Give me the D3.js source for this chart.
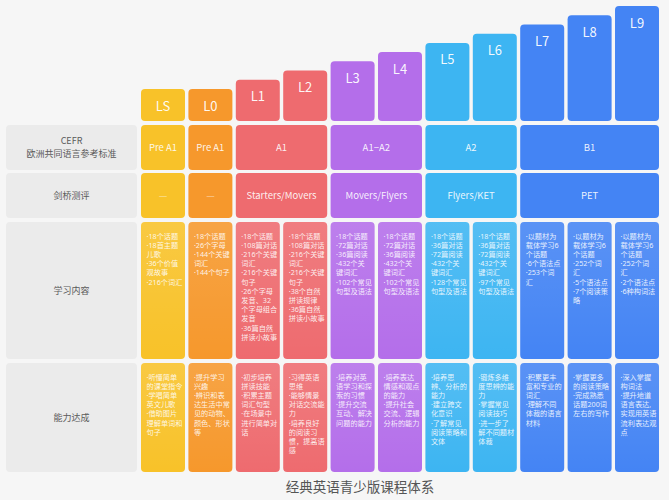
<!DOCTYPE html>
<html><head><meta charset="utf-8">
<script src="https://cdn.jsdelivr.net/npm/d3@7"></script>
<style>
html,body{margin:0;padding:0;background:#f6f6f6;}
svg{display:block;font-family:"Noto Sans CJK SC","Noto Sans",sans-serif;}
.small{font-family:"Noto Sans","Noto Sans CJK SC",sans-serif;}
</style></head>
<body>
<svg id="chart" width="669" height="500"></svg>
<script>
// ---------- data ----------
const levels = ["LS","L0","L1","L2","L3","L4","L5","L6","L7","L8","L9"];
const levelValues = [1,1,2,3,4,5,6,7,8,9,10];
const levelColors = ["#F8C229","#F6982C","#EE6B6F","#EE6B6F","#B46EEA","#B46EEA","#3DB5F2","#3DB5F2","#4484F4","#4484F4","#4484F4"];
const rowHeaders = [["CEFR","欧洲共同语言参考标准"],["剑桥测评"],["学习内容"],["能力达成"]];
const cefrGroups = [
  {label:"Pre A1", from:"LS", to:"LS"},
  {label:"Pre A1", from:"L0", to:"L0"},
  {label:"A1", from:"L1", to:"L2"},
  {label:"A1−A2", from:"L3", to:"L4"},
  {label:"A2", from:"L5", to:"L6"},
  {label:"B1", from:"L7", to:"L9"}
];
const cambridgeGroups = [
  {label:"—", from:"LS", to:"LS"},
  {label:"—", from:"L0", to:"L0"},
  {label:"Starters/Movers", from:"L1", to:"L2"},
  {label:"Movers/Flyers", from:"L3", to:"L4"},
  {label:"Flyers/KET", from:"L5", to:"L6"},
  {label:"PET", from:"L7", to:"L9"}
];
const learningContent = [
  ["·18个话题","·18首主题","儿歌","·36个价值","观故事","·216个词汇"],
  ["·18个话题","·26个字母","·144个关键","词汇","·144个句子"],
  ["·18个话题","·108篇对话","·216个关键","词汇","·216个关键","句子","·26个字母","发音、32","个字母组合","发音","·36篇自然","拼读小故事"],
  ["·18个话题","·108篇对话","·216个关键","词汇","·216个关键","句子","·38个自然","拼读规律","·36篇自然","拼读小故事"],
  ["·18个话题","·72篇对话","·36篇阅读","·432个关","键词汇","·102个常见","句型及语法"],
  ["·18个话题","·72篇对话","·36篇阅读","·432个关","键词汇","·102个常见","句型及语法"],
  ["·18个话题","·36篇对话","·72篇阅读","·432个关","键词汇","·128个常见","句型及语法"],
  ["·18个话题","·36篇对话","·72篇阅读","·432个关","键词汇","·97个常见","句型及语法"],
  ["·以题材为","载体学习6","个话题","·6个语法点","·253个词","汇"],
  ["·以题材为","载体学习6","个话题","·252个词","汇","·5个语法点","·7个阅读策","略"],
  ["·以题材为","载体学习6","个话题","·252个词","汇","·2个语法点","·6种构词法"]
];
const abilities = [
  ["·听懂简单","的课堂指令","·学唱简单","英文儿歌","·借助图片","理解单词和","句子"],
  ["·提升学习","兴趣","·辨识和表","达生活中常","见的动物、","颜色、形状","等"],
  ["·初步培养","拼读技能","·积累主题","词汇句型","·在场景中","进行简单对","话"],
  ["·习得英语","思维","·能够情景","对话交流能","力","·培养良好","的阅读习","惯，提高语","感"],
  ["·培养对英","语学习和探","索的习惯","·提升交流","互动、解决","问题的能力"],
  ["·培养表达","情感和观点","的能力","·提升社会","交流、逻辑","分析的能力"],
  ["·培养思","辨、分析的","能力","·建立跨文","化意识","·了解常见","阅读策略和","文体"],
  ["·锻炼多维","度思辨的能","力","·掌握常见","阅读技巧","·进一步了","解不同题材","体裁"],
  ["·积累更丰","富和专业的","词汇","·理解不同","体裁的语言","材料"],
  ["·掌握更多","的阅读策略","·完成熟悉","话题200词","左右的写作"],
  ["·深入掌握","构词法","·提升地道","语言表达,","实现用英语","流利表达观","点"]
];
const title = "经典英语青少版课程体系";

// ---------- layout ----------
const svg = d3.select("#chart");
const x = d3.scaleBand().domain(levels).range([141, 659]).paddingInner(0.072);
const yTop = d3.scaleLinear().domain([0, 10]).range([98.2, 6]);
const barBottom = 121;
const header = {x0: 6, x1: 137};
const rowBands = [[125,170],[173,218],[222,359],[363,472]];
const R = 4;
const color = d3.scaleOrdinal().domain(levels).range(levelColors);

// top level bars
const bars = svg.append("g");
bars.selectAll("rect").data(levels).join("rect")
  .attr("x", d => x(d)).attr("width", x.bandwidth())
  .attr("y", (d,i) => yTop(levelValues[i]))
  .attr("height", (d,i) => barBottom - yTop(levelValues[i]))
  .attr("rx", R).attr("fill", d => color(d));
bars.selectAll("text").data(levels).join("text")
  .attr("x", d => x(d) + x.bandwidth()/2)
  .attr("y", (d,i) => yTop(levelValues[i]) + 17)
  .attr("dy","0.35em")
  .attr("text-anchor","middle").attr("fill","#fff").attr("fill-opacity",0.95)
  .attr("font-size", 13).text(d => d);

// row header cells
const hg = svg.append("g");
rowHeaders.forEach((lines, r) => {
  const [y0, y1] = rowBands[r];
  hg.append("rect").attr("x", header.x0).attr("y", y0)
    .attr("width", header.x1 - header.x0).attr("height", y1 - y0)
    .attr("rx", R).attr("fill", "#EBEBEB");
  const cy = (y0 + y1)/2;
  const lh = 12.5;
  lines.forEach((t, k) => {
    hg.append("text").attr("x", (header.x0+header.x1)/2)
      .attr("y", cy + (k - (lines.length-1)/2)*lh)
      .attr("dy","0.35em").attr("text-anchor","middle")
      .attr("fill","#5a5a5a").attr("font-size", 9).text(t);
  });
});

// merged group rows
function groupRow(groups, r) {
  const [y0, y1] = rowBands[r];
  const g = svg.append("g");
  groups.forEach(gr => {
    const xa = x(gr.from), xb = x(gr.to) + x.bandwidth();
    g.append("rect").attr("x", xa).attr("y", y0).attr("width", xb - xa)
      .attr("height", y1 - y0).attr("rx", R).attr("fill", color(gr.from));
    g.append("text").attr("x", (xa + xb)/2).attr("y", (y0+y1)/2).attr("dy","0.35em")
      .attr("text-anchor","middle").attr("fill","#fff").attr("fill-opacity", gr.label === "—" ? 0.55 : 0.9)
      .attr("font-size", 9.5).text(gr.label);
  });
}
groupRow(cefrGroups, 0);
groupRow(cambridgeGroups, 1);

// gradient overlay
const defs = svg.append("defs");
const grad = defs.append("linearGradient").attr("id","shine").attr("x1",0).attr("x2",0).attr("y1",0).attr("y2",1);
grad.append("stop").attr("offset","0%").attr("stop-color","#fff").attr("stop-opacity",0.12);
grad.append("stop").attr("offset","100%").attr("stop-color","#fff").attr("stop-opacity",0);

// text rows
function textRow(data, r) {
  const [y0, y1] = rowBands[r];
  const g = svg.append("g");
  levels.forEach((lv, i) => {
    g.append("rect").attr("x", x(lv)).attr("y", y0).attr("width", x.bandwidth())
      .attr("height", y1 - y0).attr("rx", R).attr("fill", color(lv));
    g.append("rect").attr("x", x(lv)).attr("y", y0).attr("width", x.bandwidth())
      .attr("height", y1 - y0).attr("rx", R).attr("fill", "url(#shine)");
    g.selectAll(null).data(data[i]).join("text").attr("class","small")
      .attr("x", x(lv) + 5.5).attr("y", (d,k) => y0 + 14 + k*9.2).attr("dy","0.35em")
      .attr("fill","#fff").attr("fill-opacity",0.88).attr("font-size", 7.2)
      .text(d => d);
  });
}
textRow(learningContent, 2);
textRow(abilities, 3);

// title
svg.append("text").attr("x", 360).attr("y", 487).attr("dy","0.35em").attr("text-anchor","middle")
  .attr("fill","#555").attr("font-size", 13.5).text(title);
</script>
</body></html>
